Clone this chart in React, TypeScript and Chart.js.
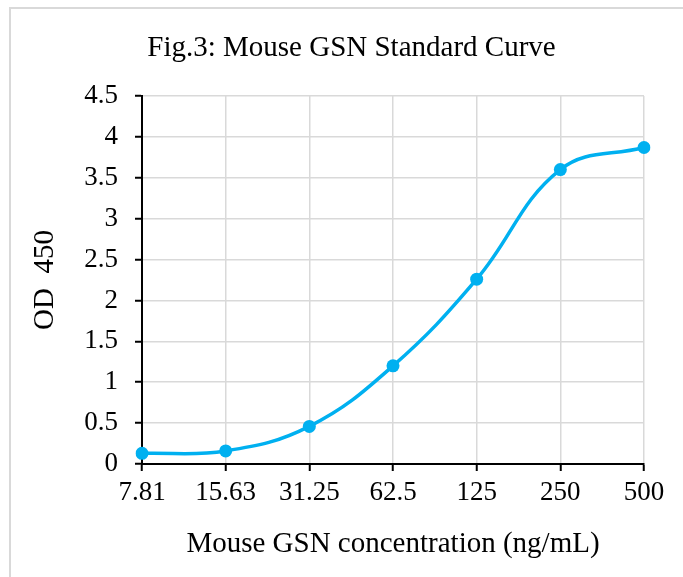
import React, { useEffect, useRef } from "react";
import { Chart, registerables } from "chart.js";

Chart.register(...registerables);

const categories = ["7.81", "15.63", "31.25", "62.5", "125", "250", "500"];
const odValues = [0.13, 0.16, 0.46, 1.2, 2.26, 3.6, 3.87];
const yTicks = [0, 0.5, 1, 1.5, 2, 2.5, 3, 3.5, 4, 4.5];
const chartTitle = "Fig.3: Mouse GSN Standard Curve";
const xTitle = "Mouse GSN concentration (ng/mL)";
const yTitle = "OD  450";

const W = 683;
const H = 577;
const FONT = "'Liberation Serif', 'Times New Roman', serif";

export default function App() {
  const ref = useRef<HTMLCanvasElement | null>(null);
  useEffect(() => {
    if (!ref.current) return;
    const chart = new Chart(ref.current, {
      type: "line",
      data: {
        labels: categories,
        datasets: [
          {
            data: odValues,
            borderColor: "#00B0F0",
            backgroundColor: "#00B0F0",
            borderWidth: 3.5,
            pointRadius: 6.5,
            pointBorderWidth: 0,
            pointBackgroundColor: "#00B0F0",
            tension: 0.4,
            fill: false,
            yAxisID: "y",
          },
        ],
      },
      options: {
        responsive: false,
        animation: false,
        layout: { padding: { left: 20, right: 0, top: 0, bottom: 0 } },
        plugins: {
          legend: { display: false },
          tooltip: { enabled: false },
          title: {
            display: true,
            text: chartTitle,
            color: "#000",
            font: { family: FONT, size: 29, weight: "normal" },
            padding: { top: 30.6, bottom: 30.6 },
          },
        },
        scales: {
          x: {
            type: "category",
            offset: false,
            grid: {
              color: "#d9d9d9",
              lineWidth: 1.5,
              tickColor: "#000",
              tickWidth: 2,
              tickLength: 7,
              drawTicks: true,
            },
            border: { color: "#000", width: 2 },
            ticks: {
              color: "#000",
              font: { family: FONT, size: 27 },
              padding: 6,
              maxRotation: 0,
              autoSkip: false,
            },
            title: {
              display: true,
              text: xTitle,
              color: "#000",
              font: { family: FONT, size: 29 },
              padding: { top: 0, bottom: 15.6 },
            },
            afterFit: (s: any) => {
              s.height = H - 464;
            },
          },
          y: {
            min: 0,
            max: 4.5,
            afterBuildTicks: (s: any) => {
              s.ticks = yTicks.map((v) => ({ value: v }));
            },
            grid: {
              color: "#d9d9d9",
              lineWidth: 1.5,
              tickColor: "#000",
              tickWidth: 2,
              tickLength: 7,
            },
            border: { color: "#000", width: 2 },
            ticks: {
              color: "#000",
              font: { family: FONT, size: 27 },
              padding: 17,
              callback: (v: any) => String(v),
            },
            title: {
              display: true,
              text: yTitle,
              color: "#000",
              font: { family: FONT, size: 29 },
              padding: { top: 8, bottom: 0 },
            },
            afterFit: (s: any) => {
              s.width = 122;
            },
          },
          yRight: {
            position: "right",
            display: true,
            grid: { display: false, drawTicks: false },
            border: { display: false },
            ticks: { display: false },
            afterFit: (s: any) => {
              s.width = 39;
            },
          },
        },
      },
    });
    return () => chart.destroy();
  }, []);

  return (
    <div
      style={{
        position: "fixed",
        left: 0,
        top: 0,
        width: W,
        height: H,
        background: "#fff",
        overflow: "hidden",
      }}
    >
      <div
        style={{
          position: "absolute",
          left: 9,
          top: 7,
          width: W,
          height: H,
          borderLeft: "2px solid #d9d9d9",
          borderTop: "2px solid #d9d9d9",
        }}
      />
      <canvas
        ref={ref}
        width={W}
        height={H}
        style={{ position: "absolute", left: 0, top: 0, width: W, height: H }}
      />
    </div>
  );
}
